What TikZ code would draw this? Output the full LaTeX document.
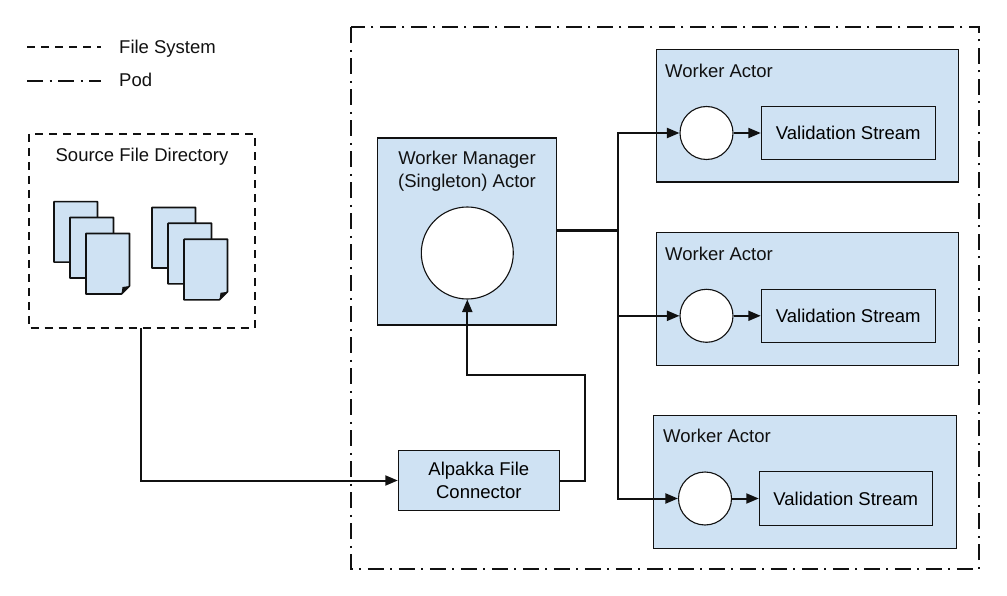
\documentclass[tikz,border=0pt]{standalone}
\usepackage{fontspec}
\setmainfont{Liberation Sans}
\usetikzlibrary{arrows.meta,positioning}
\definecolor{boxblue}{HTML}{CFE2F3}
\definecolor{inkc}{HTML}{111111}
\tikzset{
  px/.style={x=1pt,y=-1pt},
  blue box/.style={draw=inkc,fill=boxblue,line width=1.1pt,rectangle,inner sep=0pt,align=center,font=\fontsize{18.5}{23}\selectfont},
  bubble/.style={draw=inkc,fill=white,line width=1.1pt,circle,inner sep=0pt},
  caption/.style={inner sep=0pt,text=inkc,align=center,font=\fontsize{18.5}{23}\selectfont},
  conn/.style={draw=inkc,line width=2pt,-{Triangle[length=12.5pt,width=10pt]},line join=miter},
  plain conn/.style={draw=inkc,line width=2pt,line join=miter},
  fsline/.style={draw=inkc,line width=2pt,dash pattern=on 8pt off 6pt},
  podline/.style={draw=inkc,line width=2pt,dash pattern=on 16pt off 6.5pt on 2pt off 6.5pt},
  paper/.style={draw=inkc,fill=boxblue,line width=1.6pt,line join=round},
}
\newcommand{\docsheet}[2]{%
  \draw[paper] (#1,#2) -- ++(43.5,0) -- ++(0,52.5) -- ++(-8,8) -- ++(-35.5,0) -- cycle;
  \fill[inkc] (#1+43.5,#2+52.5) -- ++(-8,8) -- ++(1,-7) -- cycle;
}
\begin{document}
\begin{tikzpicture}[px]
\useasboundingbox (0,0) rectangle (1007,596);
\fill[white] (0,0) rectangle (1007,596);
% legend
\coordinate (fsa) at (27,47.5); \coordinate (fsb) at (101,47.5);
\coordinate (poa) at (27,81); \coordinate (pob) at (101,81);
\draw[fsline] (fsa) -- (fsb);
\draw[podline] (poa) -- (pob);
\node[caption,anchor=west] (fstext) at (119,48.5) {File System};
\node[caption,anchor=west] (podtext) at (119,80) {Pod};
% pod
\node[draw=none,minimum width=627.5pt,minimum height=541pt,inner sep=0pt] (pod) at (665.3,298) {};
\draw[podline] (pod.north west) rectangle (pod.south east);
% source
\node[minimum width=225pt,minimum height=194pt,inner sep=0pt] (source) at (141.8,231) {};
\draw[fsline] (source.north west) rectangle (source.south east);
\node[caption] (sourcetext) at (142,156.5) {Source File Directory};
\docsheet{54}{201.7}\docsheet{70}{217.5}\docsheet{86}{233.5}
\docsheet{152}{207.5}\docsheet{168}{223.3}\docsheet{184}{239.3}
% manager
\node[blue box,minimum width=179pt,minimum height=187pt] (manager) at (467,231.5) {};
\node[caption] (managertext) at (467,171) {Worker Manager\\(Singleton) Actor};
\node[bubble,minimum size=92pt] (hub) at (467.3,253) {};
% alpakka
\node[blue box,minimum width=161pt,minimum height=59.5pt] (alpakka) at (478.8,480.5) {\raisebox{-1pt}{\parbox{150pt}{\centering Alpakka File\\Connector}}};
% workers
\node[blue box,minimum width=302pt,minimum height=132.5pt] (w1) at (807.5,115.8) {};
\node[caption,anchor=west] (w1t) at (665,70.5) {Worker Actor};
\node[bubble,minimum size=53pt] (c1) at (706.5,133) {};
\node[blue box,minimum width=174pt,minimum height=53pt] (v1) at (848.3,133) {Validation Stream};
\node[blue box,minimum width=302pt,minimum height=132.5pt] (w2) at (807.5,298.8) {};
\node[caption,anchor=west] (w2t) at (665,253.5) {Worker Actor};
\node[bubble,minimum size=53pt] (c2) at (706.5,315.8) {};
\node[blue box,minimum width=174pt,minimum height=53pt] (v2) at (848.3,315.8) {Validation Stream};
\node[blue box,minimum width=303pt,minimum height=133pt] (w3) at (804.8,481.8) {};
\node[caption,anchor=west] (w3t) at (663,435.5) {Worker Actor};
\node[bubble,minimum size=53pt] (c3) at (705,498.5) {};
\node[blue box,minimum width=173pt,minimum height=54pt] (v3) at (845.8,498.5) {Validation Stream};
% connectors
\coordinate (bus) at (618,231);
\draw[conn] (source.south -| 141,328) |- (alpakka.west);
\draw[conn] (alpakka.east) -| (584.5,374.5) -| (hub.south);
\draw[plain conn,line width=3pt] (manager.east |- bus) -- (bus);
\draw[plain conn,line width=2.6pt] (bus) -- (bus |- c2);
\draw[conn] (bus) |- (c1.west);
\draw[conn] (bus) |- (c2.west);
\draw[conn] (bus) |- (c3.west);
\draw[conn] (c1.east) -- (v1.west);
\draw[conn] (c2.east) -- (v2.west);
\draw[conn] (c3.east) -- (v3.west);
\end{tikzpicture}
\end{document}
